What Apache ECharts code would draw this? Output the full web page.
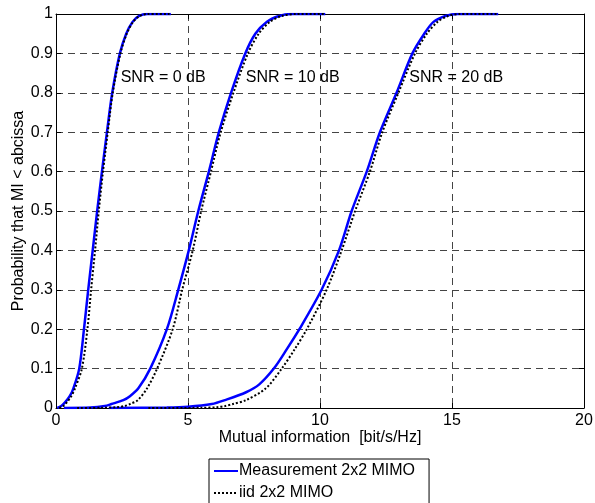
<!DOCTYPE html>
<html>
<head>
<meta charset="utf-8">
<script src="https://cdn.jsdelivr.net/npm/echarts@6/dist/echarts.min.js"></script>
<style>
  html, body { margin: 0; padding: 0; background: #fff; }
  #chart { width: 595px; height: 503px; }
</style>
</head>
<body>
<div id="chart"></div>
<script>
// Axis ticks
const xTicks = [0, 5, 10, 15, 20];
const yTicks = [0, 0.1, 0.2, 0.3, 0.4, 0.5, 0.6, 0.7, 0.8, 0.9, 1];

// Annotations for the three SNR families (data coordinates)
const snrLabels = ['SNR = 0 dB', 'SNR = 10 dB', 'SNR = 20 dB'];
const snrLabelX = [2.45, 7.19, 13.38];
const snrLabelY = 0.838;

// Empirical CDFs of mutual information: x = MI [bit/s/Hz], y = probability
// Measurement 2x2 MIMO
const measSnr0X  = [0.05, 0.2, 0.35, 0.52, 0.66, 0.88, 1.06, 1.22, 1.39, 1.56, 1.74, 1.93, 2.13, 2.42, 2.66, 2.9, 3.15, 3.45, 4.35];
const measSnr0Y  = [0, 0.005, 0.015, 0.03, 0.05, 0.1, 0.2, 0.3, 0.4, 0.5, 0.6, 0.7, 0.8, 0.9, 0.95, 0.98, 0.995, 1, 1];
const measSnr10X = [0.3, 1.3, 1.85, 2.1, 2.55, 2.8, 3.12, 3.57, 4.2, 4.63, 5.03, 5.39, 5.79, 6.17, 6.63, 7.17, 7.55, 7.98, 8.45, 8.9, 10.2];
const measSnr10Y = [0, 0.001, 0.005, 0.01, 0.02, 0.03, 0.05, 0.1, 0.2, 0.3, 0.4, 0.5, 0.6, 0.7, 0.8, 0.9, 0.95, 0.98, 0.995, 1, 1];
const measSnr20X = [2.0, 4.2, 5.0, 5.9, 6.4, 7.2, 7.7, 8.25, 8.75, 9.22, 10.06, 10.72, 11.2, 11.77, 12.27, 12.9, 13.5, 13.95, 14.3, 14.75, 15.2, 16.75];
const measSnr20Y = [0, 0.001, 0.003, 0.01, 0.02, 0.04, 0.06, 0.1, 0.15, 0.2, 0.3, 0.4, 0.5, 0.6, 0.7, 0.8, 0.9, 0.95, 0.98, 0.995, 1, 1];

// iid 2x2 MIMO
const iidSnr0X  = [0.12, 0.28, 0.42, 0.58, 0.72, 0.98, 1.19, 1.33, 1.48, 1.62, 1.78, 1.96, 2.15, 2.44, 2.68, 2.92, 3.17, 3.45, 4.3];
const iidSnr0Y  = [0, 0.005, 0.015, 0.03, 0.05, 0.1, 0.2, 0.3, 0.4, 0.5, 0.6, 0.7, 0.8, 0.9, 0.95, 0.98, 0.995, 1, 1];
const iidSnr10X = [0.8, 1.7, 2.3, 2.6, 2.8, 3.1, 3.45, 3.83, 4.42, 4.78, 5.18, 5.5, 5.87, 6.24, 6.72, 7.27, 7.68, 8.1, 8.55, 9.1, 10.2];
const iidSnr10Y = [0, 0.0005, 0.002, 0.005, 0.01, 0.02, 0.05, 0.1, 0.2, 0.3, 0.4, 0.5, 0.6, 0.7, 0.8, 0.9, 0.95, 0.98, 0.995, 1, 1];
const iidSnr20X = [3.5, 5.5, 6.1, 6.4, 6.7, 7.2, 7.95, 8.55, 9.05, 9.5, 10.25, 10.82, 11.33, 11.89, 12.36, 12.97, 13.6, 14.05, 14.45, 14.85, 15.3, 16.75];
const iidSnr20Y = [0, 0.0005, 0.002, 0.005, 0.01, 0.02, 0.05, 0.1, 0.15, 0.2, 0.3, 0.4, 0.5, 0.6, 0.7, 0.8, 0.9, 0.95, 0.98, 0.995, 1, 1];

const measName = 'Measurement 2x2 MIMO';
const iidName = 'iid 2x2 MIMO';

const FONT = "'Liberation Sans', Arial, Helvetica, sans-serif";

function pairs(xs, ys) { return xs.map((x, i) => [x, ys[i]]); }

function measSeries(xs, ys) {
  return {
    name: measName, type: 'line', xAxisIndex: 0, yAxisIndex: 0,
    data: pairs(xs, ys), symbol: 'none', smooth: 0.3,
    lineStyle: { color: '#0000ff', width: 2.5 },
    itemStyle: { color: '#0000ff' }
  };
}
function iidSeries(xs, ys) {
  return {
    name: iidName, type: 'line', xAxisIndex: 0, yAxisIndex: 0,
    data: pairs(xs, ys), symbol: 'none', smooth: 0.3,
    lineStyle: { color: '#000', width: 2, type: [2, 2] },
    itemStyle: { color: '#000' }
  };
}

const chart = echarts.init(document.getElementById('chart'), null, { renderer: 'canvas' });

const gridLine = { show: true, lineStyle: { color: '#444', width: 1, type: [7, 5] } };
const axisLine = { show: true, onZero: false, lineStyle: { color: '#000', width: 1 } };
const tickIn = { show: true, inside: true, length: 5, lineStyle: { color: '#000' } };

const xStep = xTicks[1] - xTicks[0];
const yStep = +(yTicks[1] - yTicks[0]).toFixed(2);

chart.setOption({
  animation: false,
  backgroundColor: '#fff',
  textStyle: { fontFamily: FONT },
  grid: { left: 56, right: 11, top: 14, bottom: 95, containLabel: false, outerBoundsMode: 'none' },
  legend: {
    left: 209, top: 459, height: 80, orient: 'vertical',
    data: [measName, iidName],
    itemWidth: 24, itemHeight: 14, itemGap: 6,
    padding: [4, 14, 4, 4],
    borderColor: '#000', borderWidth: 1, borderRadius: 0,
    backgroundColor: '#fff',
    itemStyle: { opacity: 0, borderWidth: 0 },
    textStyle: { fontFamily: FONT, fontSize: 16, lineHeight: 14, color: '#000', padding: [0, 0, 0, -4] }
  },
  xAxis: [
    {
      type: 'value', position: 'bottom',
      min: xTicks[0], max: xTicks[xTicks.length - 1], interval: xStep,
      name: 'Mutual information  [bit/s/Hz]', nameLocation: 'middle', nameGap: 22,
      nameMoveOverlap: false,
      nameTextStyle: { fontFamily: FONT, fontSize: 16, color: '#000' },
      axisLine: axisLine, axisTick: tickIn, splitLine: gridLine,
      axisLabel: { fontFamily: FONT, fontSize: 16, color: '#000', margin: 5 }
    },
    {
      type: 'value', position: 'top',
      min: xTicks[0], max: xTicks[xTicks.length - 1], interval: xStep,
      axisLine: axisLine, axisTick: tickIn, splitLine: { show: false },
      axisLabel: { show: false }
    }
  ],
  yAxis: [
    {
      type: 'value', position: 'left',
      min: yTicks[0], max: yTicks[yTicks.length - 1], interval: yStep,
      name: 'Probability that MI < abcissa', nameLocation: 'middle', nameGap: 29,
      nameMoveOverlap: false,
      nameTextStyle: { fontFamily: FONT, fontSize: 16, color: '#000' },
      axisLine: axisLine, axisTick: tickIn, splitLine: gridLine,
      axisLabel: {
        fontFamily: FONT, fontSize: 16, color: '#000', margin: 3,
        formatter: v => String(+v.toFixed(1))
      }
    },
    {
      type: 'value', position: 'right',
      min: yTicks[0], max: yTicks[yTicks.length - 1], interval: yStep,
      axisLine: axisLine, axisTick: tickIn, splitLine: { show: false },
      axisLabel: { show: false }
    }
  ],
  series: [
    measSeries(measSnr0X, measSnr0Y),
    measSeries(measSnr10X, measSnr10Y),
    measSeries(measSnr20X, measSnr20Y),
    iidSeries(iidSnr0X, iidSnr0Y),
    iidSeries(iidSnr10X, iidSnr10Y),
    iidSeries(iidSnr20X, iidSnr20Y)
  ]
});

// Place the SNR annotations at their data positions
chart.setOption({
  graphic: snrLabels.map((txt, i) => {
    const p = chart.convertToPixel({ gridIndex: 0 }, [snrLabelX[i], snrLabelY]);
    return {
      type: 'text', x: p[0], y: p[1], z: 10,
      style: { text: txt, fontFamily: FONT, fontSize: 16, fill: '#000',
               align: 'left', verticalAlign: 'middle' }
    };
  })
});
</script>
</body>
</html>
